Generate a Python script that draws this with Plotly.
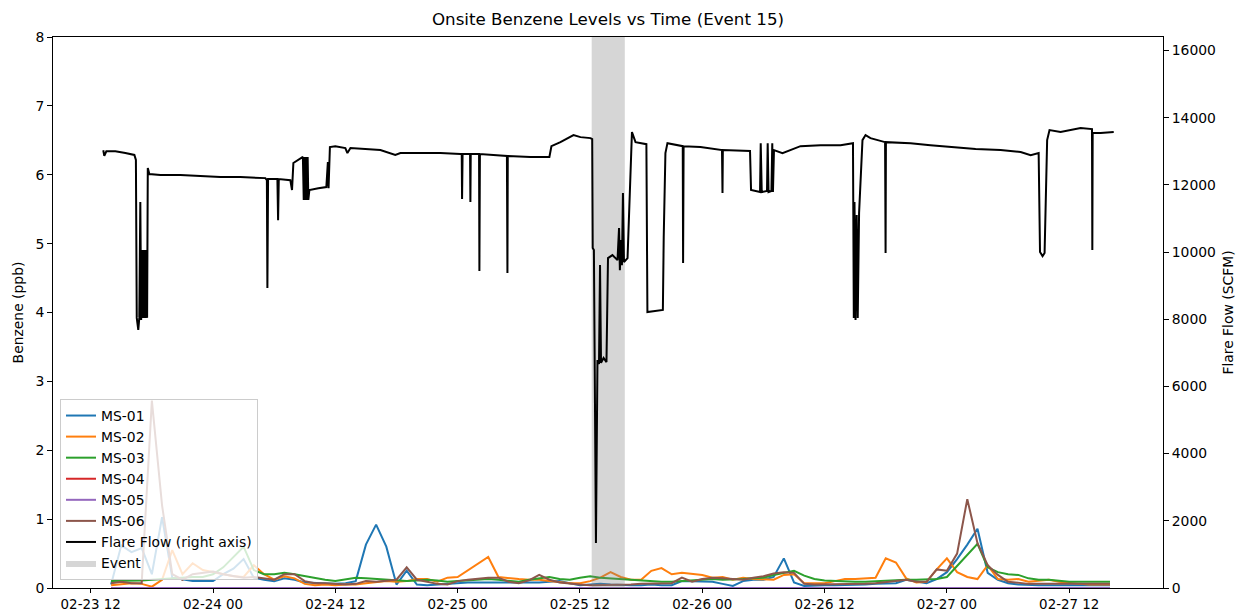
import pandas as pd
import plotly.graph_objects as go

# ---- Monitoring station benzene (ppb), hourly readings ----
ms_start = "2023-02-23 14:00"
ms_hours = 99

ms01 = [0.05, 0.62, 0.52, 0.58, 0.20, 1.03, 0.15, 0.12, 0.10, 0.10, 0.10, 0.20,
        0.28, 0.42, 0.15, 0.12, 0.10, 0.14, 0.12, 0.08, 0.07, 0.06, 0.06, 0.07,
        0.10, 0.63, 0.92, 0.60, 0.05, 0.25, 0.05, 0.04, 0.05, 0.06, 0.08, 0.08,
        0.08, 0.08, 0.08, 0.07, 0.08, 0.08, 0.08, 0.09, 0.10, 0.07, 0.04, 0.05,
        0.06, 0.05, 0.04, 0.04, 0.04, 0.05, 0.04, 0.04, 0.10, 0.10, 0.10, 0.09,
        0.06, 0.03, 0.10, 0.12, 0.12, 0.16, 0.43, 0.08, 0.03, 0.04, 0.04, 0.04,
        0.04, 0.04, 0.05, 0.06, 0.06, 0.07, 0.12, 0.10, 0.07, 0.13, 0.23, 0.42,
        0.63, 0.86, 0.22, 0.12, 0.07, 0.05, 0.04, 0.04, 0.04, 0.04, 0.04, 0.04,
        0.04, 0.04, 0.04]
ms02 = [0.04, 0.06, 0.07, 0.06, 0.02, 0.12, 0.55, 0.20, 0.36, 0.26, 0.23, 0.20,
        0.17, 0.16, 0.33, 0.20, 0.12, 0.17, 0.14, 0.06, 0.04, 0.05, 0.04, 0.05,
        0.05, 0.07, 0.08, 0.10, 0.09, 0.10, 0.13, 0.13, 0.09, 0.15, 0.16, 0.26,
        0.36, 0.45, 0.16, 0.14, 0.13, 0.12, 0.12, 0.10, 0.08, 0.07, 0.07, 0.10,
        0.15, 0.23, 0.16, 0.12, 0.12, 0.25, 0.29, 0.20, 0.22, 0.21, 0.19, 0.15,
        0.16, 0.12, 0.15, 0.13, 0.12, 0.12, 0.19, 0.20, 0.07, 0.07, 0.07, 0.10,
        0.13, 0.13, 0.14, 0.15, 0.43, 0.37, 0.14, 0.08, 0.09, 0.27, 0.43, 0.23,
        0.16, 0.13, 0.33, 0.13, 0.12, 0.13, 0.09, 0.10, 0.12, 0.09, 0.07, 0.06,
        0.05, 0.05, 0.05]
ms03 = [0.10, 0.10, 0.10, 0.11, 0.12, 0.13, 0.14, 0.16, 0.16, 0.16, 0.20, 0.30,
        0.45, 0.60, 0.26, 0.20, 0.20, 0.22, 0.20, 0.17, 0.14, 0.12, 0.10, 0.12,
        0.15, 0.14, 0.13, 0.11, 0.10, 0.10, 0.11, 0.12, 0.11, 0.09, 0.10, 0.11,
        0.12, 0.13, 0.12, 0.10, 0.09, 0.12, 0.14, 0.16, 0.13, 0.12, 0.15, 0.17,
        0.15, 0.14, 0.13, 0.12, 0.10, 0.09, 0.09, 0.09, 0.10, 0.12, 0.13, 0.13,
        0.12, 0.12, 0.13, 0.14, 0.15, 0.19, 0.22, 0.25, 0.18, 0.13, 0.11, 0.10,
        0.10, 0.09, 0.09, 0.10, 0.10, 0.11, 0.12, 0.12, 0.12, 0.13, 0.16, 0.32,
        0.48, 0.64, 0.30, 0.23, 0.20, 0.19, 0.14, 0.12, 0.12, 0.10, 0.09, 0.09,
        0.09, 0.09, 0.09]
ms04 = [0.0] * ms_hours
ms05 = [0.0] * ms_hours
ms06 = [0.07, 0.09, 0.07, 0.07, 2.72, 1.20, 0.20, 0.12, 0.20, 0.22, 0.24, 0.20,
        0.18, 0.15, 0.16, 0.14, 0.12, 0.20, 0.20, 0.10, 0.07, 0.07, 0.06, 0.05,
        0.06, 0.10, 0.09, 0.10, 0.12, 0.30, 0.12, 0.09, 0.06, 0.05, 0.10, 0.12,
        0.14, 0.15, 0.15, 0.09, 0.07, 0.11, 0.19, 0.12, 0.08, 0.06, 0.05, 0.04,
        0.04, 0.05, 0.05, 0.05, 0.06, 0.06, 0.06, 0.07, 0.15, 0.09, 0.13, 0.15,
        0.14, 0.13, 0.12, 0.15, 0.17, 0.21, 0.23, 0.22, 0.06, 0.05, 0.05, 0.05,
        0.05, 0.06, 0.06, 0.07, 0.08, 0.10, 0.12, 0.09, 0.09, 0.27, 0.25, 0.50,
        1.29, 0.65, 0.33, 0.19, 0.09, 0.07, 0.06, 0.06, 0.06, 0.06, 0.06, 0.06,
        0.06, 0.06, 0.06]

stations = ["MS-01", "MS-02", "MS-03", "MS-04", "MS-05", "MS-06"]
station_values = [ms01, ms02, ms03, ms04, ms05, ms06]
station_colors = ["#1f77b4", "#ff7f0e", "#2ca02c", "#d62728", "#9467bd", "#8c564b"]

# ---- Flare flow (SCFM) ----
flare_time = [
    "2023-02-23 13:14", "2023-02-23 13:20", "2023-02-23 13:32", "2023-02-23 14:25",
    "2023-02-23 15:24", "2023-02-23 16:17", "2023-02-23 16:26", "2023-02-23 16:31",
    "2023-02-23 16:40", "2023-02-23 16:46", "2023-02-23 16:52", "2023-02-23 16:57",
    "2023-02-23 17:01", "2023-02-23 17:06", "2023-02-23 17:10", "2023-02-23 17:14",
    "2023-02-23 17:18", "2023-02-23 17:23", "2023-02-23 17:27", "2023-02-23 17:32",
    "2023-02-23 17:36", "2023-02-23 17:45", "2023-02-23 18:50", "2023-02-23 20:48",
    "2023-02-23 22:45", "2023-02-24 00:43", "2023-02-24 02:41", "2023-02-24 05:08",
    "2023-02-24 05:17", "2023-02-24 05:20", "2023-02-24 05:24", "2023-02-24 06:19",
    "2023-02-24 06:23", "2023-02-24 06:27", "2023-02-24 07:35", "2023-02-24 07:45",
    "2023-02-24 07:53", "2023-02-24 08:22", "2023-02-24 08:49", "2023-02-24 08:54",
    "2023-02-24 08:58", "2023-02-24 09:03", "2023-02-24 09:08", "2023-02-24 09:12",
    "2023-02-24 09:17", "2023-02-24 09:21", "2023-02-24 09:27", "2023-02-24 10:20",
    "2023-02-24 11:07", "2023-02-24 11:16", "2023-02-24 11:20", "2023-02-24 11:28",
    "2023-02-24 12:00", "2023-02-24 12:59", "2023-02-24 13:11", "2023-02-24 13:29",
    "2023-02-24 14:57", "2023-02-24 16:25", "2023-02-24 17:53", "2023-02-24 18:23",
    "2023-02-24 20:20", "2023-02-24 22:18", "2023-02-25 00:16", "2023-02-25 00:24",
    "2023-02-25 00:26", "2023-02-25 00:29", "2023-02-25 01:13", "2023-02-25 01:15",
    "2023-02-25 01:17", "2023-02-25 02:06", "2023-02-25 02:08", "2023-02-25 02:11",
    "2023-02-25 03:43", "2023-02-25 04:50", "2023-02-25 04:53", "2023-02-25 04:55",
    "2023-02-25 07:08", "2023-02-25 09:00", "2023-02-25 09:12", "2023-02-25 10:05",
    "2023-02-25 11:22", "2023-02-25 12:03", "2023-02-25 13:02", "2023-02-25 13:12",
    "2023-02-25 13:15", "2023-02-25 13:22", "2023-02-25 13:34", "2023-02-25 13:43",
    "2023-02-25 13:52", "2023-02-25 13:58", "2023-02-25 14:04", "2023-02-25 14:19",
    "2023-02-25 14:36", "2023-02-25 14:45", "2023-02-25 15:11", "2023-02-25 15:41",
    "2023-02-25 15:50", "2023-02-25 15:55", "2023-02-25 16:01", "2023-02-25 16:07",
    "2023-02-25 16:13", "2023-02-25 16:19", "2023-02-25 16:40", "2023-02-25 17:06",
    "2023-02-25 17:27", "2023-02-25 18:31", "2023-02-25 18:37", "2023-02-25 19:25",
    "2023-02-25 20:08", "2023-02-25 20:13", "2023-02-25 20:23", "2023-02-25 20:35",
    "2023-02-25 22:05", "2023-02-25 22:07", "2023-02-25 22:10", "2023-02-25 23:49",
    "2023-02-26 01:56", "2023-02-26 01:59", "2023-02-26 02:01", "2023-02-26 04:41",
    "2023-02-26 04:47", "2023-02-26 05:40", "2023-02-26 05:44", "2023-02-26 05:50",
    "2023-02-26 06:21", "2023-02-26 06:25", "2023-02-26 06:30", "2023-02-26 06:47",
    "2023-02-26 06:52", "2023-02-26 06:56", "2023-02-26 07:02", "2023-02-26 07:52",
    "2023-02-26 08:40", "2023-02-26 09:38", "2023-02-26 11:36", "2023-02-26 13:34",
    "2023-02-26 14:47", "2023-02-26 14:52", "2023-02-26 14:56", "2023-02-26 15:02",
    "2023-02-26 15:09", "2023-02-26 15:15", "2023-02-26 15:23", "2023-02-26 15:43",
    "2023-02-26 16:01", "2023-02-26 16:30", "2023-02-26 17:56", "2023-02-26 17:59",
    "2023-02-26 18:01", "2023-02-26 20:26", "2023-02-26 22:23", "2023-02-27 00:21",
    "2023-02-27 02:49", "2023-02-27 05:16", "2023-02-27 07:14", "2023-02-27 08:13",
    "2023-02-27 09:00", "2023-02-27 09:08", "2023-02-27 09:23", "2023-02-27 09:35",
    "2023-02-27 09:50", "2023-02-27 10:04", "2023-02-27 11:09", "2023-02-27 13:07",
    "2023-02-27 14:06", "2023-02-27 14:14", "2023-02-27 14:16", "2023-02-27 14:18",
    "2023-02-27 15:05", "2023-02-27 16:22",
]
flare_scfm = [
    13030, 12860, 13000, 13000,
    12950, 12890, 12740, 8040,
    7680, 8040, 11490, 7980,
    10060, 8040, 10060, 8040,
    10060, 8040, 10060, 8040,
    12500, 12320, 12290, 12290,
    12260, 12230, 12230, 12200,
    12140, 8930, 12170, 12170,
    10950, 12170, 12140, 11845,
    12650, 12740, 12830, 11550,
    12830, 11550, 12830, 11550,
    12830, 11550, 11845, 11900,
    11935, 12680, 11900, 13125,
    13150, 13095, 12945, 13095,
    13065, 13035, 12890, 12945,
    12945, 12945, 12915, 12915,
    11575, 12915, 12915, 11490,
    12915, 12915, 9435, 12915,
    12890, 12860, 9375, 12860,
    12830, 12830, 13150, 13270,
    13480, 13420, 13390, 13360,
    10120, 10060, 1340, 6785,
    6665, 9610, 6700, 6845,
    6725, 9820, 9910, 9760,
    10715, 9460, 10355, 9610,
    11755, 9700, 9820, 13570,
    13270, 13210, 8215, 8245,
    8275, 10445, 12945, 13240,
    13150, 9670, 13150, 13125,
    13035, 11755, 13035, 13005,
    11845, 11785, 13240, 11785,
    11815, 13240, 11785, 11815,
    13240, 11785, 13035, 12945,
    13035, 13150, 13180, 13180,
    13240, 8035, 11490, 7975,
    11100, 8035, 11160, 13330,
    13480, 13390, 13270, 9970,
    13270, 13240, 13180, 13125,
    13065, 13035, 12975, 12885,
    12945, 10000, 9880, 9970,
    13330, 13630, 13570, 13690,
    13660, 13660, 10060, 13540,
    13540, 13570,
]

event_start = "2023-02-25 13:09"
event_end = "2023-02-25 16:24"

# axis limits
benzene_range = [0, 8]
flow_range = [0, 16400]
time_range = ["2023-02-23 08:18", "2023-02-27 21:12"]

ms_time = pd.date_range(ms_start, periods=ms_hours, freq="h")

FONT = "DejaVu Sans"
fig = go.Figure()

for rank, (name, vals, col) in enumerate(zip(stations, station_values, station_colors), start=1):
    fig.add_trace(go.Scatter(
        x=ms_time, y=vals, name=name, mode="lines",
        line=dict(color=col, width=2), legendrank=rank, yaxis="y",
    ))

# shaded event window, drawn on the flow axis beneath the flow line
fig.add_trace(go.Scatter(
    x=[event_start, event_start, event_end, event_end, event_start],
    y=[flow_range[0], flow_range[1], flow_range[1], flow_range[0], flow_range[0]],
    mode="lines", fill="toself", fillcolor="rgba(128,128,128,0.32)",
    line=dict(width=0, color="rgba(128,128,128,0.32)"),
    name="Event", yaxis="y2", legendrank=8, hoverinfo="skip",
))

fig.add_trace(go.Scatter(
    x=pd.to_datetime(flare_time), y=flare_scfm, name="Flare Flow (right axis)",
    mode="lines", line=dict(color="black", width=2), yaxis="y2", legendrank=7,
))

tick_font = dict(family=FONT, size=13.9, color="black")
xtick_font = dict(family=FONT, size=13.4, color="black")

fig.update_layout(
    width=1243, height=612,
    margin=dict(l=53, r=80, t=37, b=24, autoexpand=False),
    paper_bgcolor="white", plot_bgcolor="white",
    font=dict(family=FONT, color="black"),
    title=dict(text="Onsite Benzene Levels vs Time (Event 15)", x=0.5, xref="paper",
               xanchor="center", y=1 - 19 / 612, yanchor="middle",
               font=dict(family=FONT, size=16.7, color="black")),
    xaxis=dict(
        type="date", range=time_range, tickformat="%m-%d %H",
        tick0="2023-02-23 12:00", dtick=12 * 3600 * 1000,
        ticks="outside", ticklen=4, tickcolor="black", tickwidth=1,
        showline=True, linecolor="black", linewidth=1, mirror=True,
        showgrid=False, zeroline=False, tickfont=xtick_font, automargin=False,
    ),
    yaxis=dict(
        range=benzene_range, dtick=1, tick0=0,
        ticks="outside", ticklen=5, tickcolor="black", tickwidth=1,
        showline=True, linecolor="black", linewidth=1,
        showgrid=False, zeroline=False, tickfont=tick_font, automargin=False,
        title=dict(text="Benzene (ppb)", font=dict(family=FONT, size=13.9, color="black"),
                   standoff=8),
    ),
    yaxis2=dict(
        range=flow_range, dtick=2000, tick0=0, tickformat="d",
        overlaying="y", side="right",
        ticks="outside", ticklen=5, tickcolor="black", tickwidth=1,
        showline=True, linecolor="black", linewidth=1,
        showgrid=False, zeroline=False, tickfont=tick_font, automargin=False,
        title=dict(text="Flare Flow (SCFM)", font=dict(family=FONT, size=13.9, color="black"),
                   standoff=8),
    ),
    legend=dict(
        x=7 / 1110, y=8 / 551, xanchor="left", yanchor="bottom",
        bgcolor="rgba(255,255,255,0.8)", bordercolor="#cccccc", borderwidth=1,
        font=dict(family=FONT, size=13.9, color="black"),
        traceorder="normal",
    ),
    showlegend=True,
)

fig.write_html("out.html")
